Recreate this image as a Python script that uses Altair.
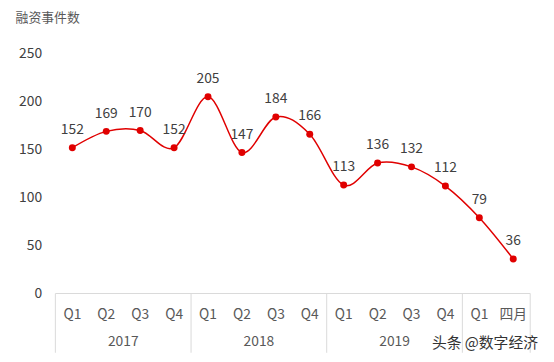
import altair as alt
import pandas as pd

quarters = ["Q1", "Q2", "Q3", "Q4", "Q1", "Q2", "Q3", "Q4", "Q1", "Q2", "Q3", "Q4", "Q1", "四月"]
values = [152, 169, 170, 152, 205, 147, 184, 166, 113, 136, 132, 112, 79, 36]
years = ["2017", "2018", "2019"]
year_centers = [2, 6, 10]
separators = [0, 4, 8, 12, 14]
y_ticks = [0, 50, 100, 150, 200, 250]

W, H = 481, 243
FONT = "Noto Sans CJK SC"
RED = "#E00000"

df = pd.DataFrame({"pos": [i + 0.5 for i in range(len(values))], "q": quarters, "v": values,
                   "zero": [0] * len(values)})
df_years = pd.DataFrame({"pos": year_centers, "year": years, "zero": [0] * len(years)})
df_sep = pd.DataFrame({"pos": separators, "zero": [0] * len(separators)})
df_h = pd.DataFrame({"a": [0], "b": [14], "zero": [0]})
df_wm = pd.DataFrame({"t": ["头条 @数字经济"], "pos": [14.23], "zero": [0]})


def X(field):
    return alt.X(field, type="quantitative", scale=alt.Scale(domain=[0, 14], nice=False, zero=False), axis=None)


def Y(field):
    return alt.Y(field, type="quantitative", scale=alt.Scale(domain=[0, 250], nice=False),
                 axis=alt.Axis(values=y_ticks, domain=False, ticks=False, grid=False,
                               labelPadding=14, labelFontSize=14, labelColor="#404040",
                               labelFont=FONT, title=None))


line = alt.Chart(df).mark_line(color=RED, strokeWidth=1.5, interpolate="cardinal").encode(
    x=X("pos"), y=Y("v"))
pts = alt.Chart(df).mark_circle(color=RED, size=50, opacity=1).encode(x=X("pos"), y=Y("v"))
lbls = alt.Chart(df).mark_text(dy=-18, fontSize=14, color="#404040", font=FONT).encode(
    x=X("pos"), y=Y("v"), text=alt.Text("v", type="quantitative"))
qlbls = alt.Chart(df).mark_text(fontSize=14, color="#595959", font=FONT, baseline="middle", dy=22).encode(
    x=X("pos"), y=Y("zero"), text=alt.Text("q", type="nominal"))
ylbls = alt.Chart(df_years).mark_text(fontSize=14, color="#595959", font=FONT, baseline="middle", dy=49).encode(
    x=X("pos"), y=Y("zero"), text=alt.Text("year", type="nominal"))
seps = alt.Chart(df_sep).mark_rule(color="#D9D9D9", strokeWidth=1).encode(
    x=X("pos"), y=Y("zero"), y2=alt.value(H + 60))
hline = alt.Chart(df_h).mark_rule(color="#D9D9D9", strokeWidth=1).encode(
    x=X("a"), x2=alt.X2("b"), y=Y("zero"))
wm = alt.Chart(df_wm).mark_text(fontSize=15, color="#333333", font=FONT, align="right",
                                baseline="middle", dy=50).encode(
    x=X("pos"), y=Y("zero"), text=alt.Text("t", type="nominal"))

chart = alt.layer(seps, hline, line, pts, lbls, qlbls, ylbls, wm).properties(
    width=W, height=H,
    title=alt.TitleParams("融资事件数", anchor="start", dx=-3, fontSize=13, color="#595959",
                          font=FONT, fontWeight="normal", offset=22),
    padding={"left": 48, "top": 44, "right": 16, "bottom": 58},
    autosize=alt.AutoSizeParams(type="none"),
).configure_view(strokeWidth=0)

chart.save("out.html", embed_options={"renderer": "svg", "actions": False})
